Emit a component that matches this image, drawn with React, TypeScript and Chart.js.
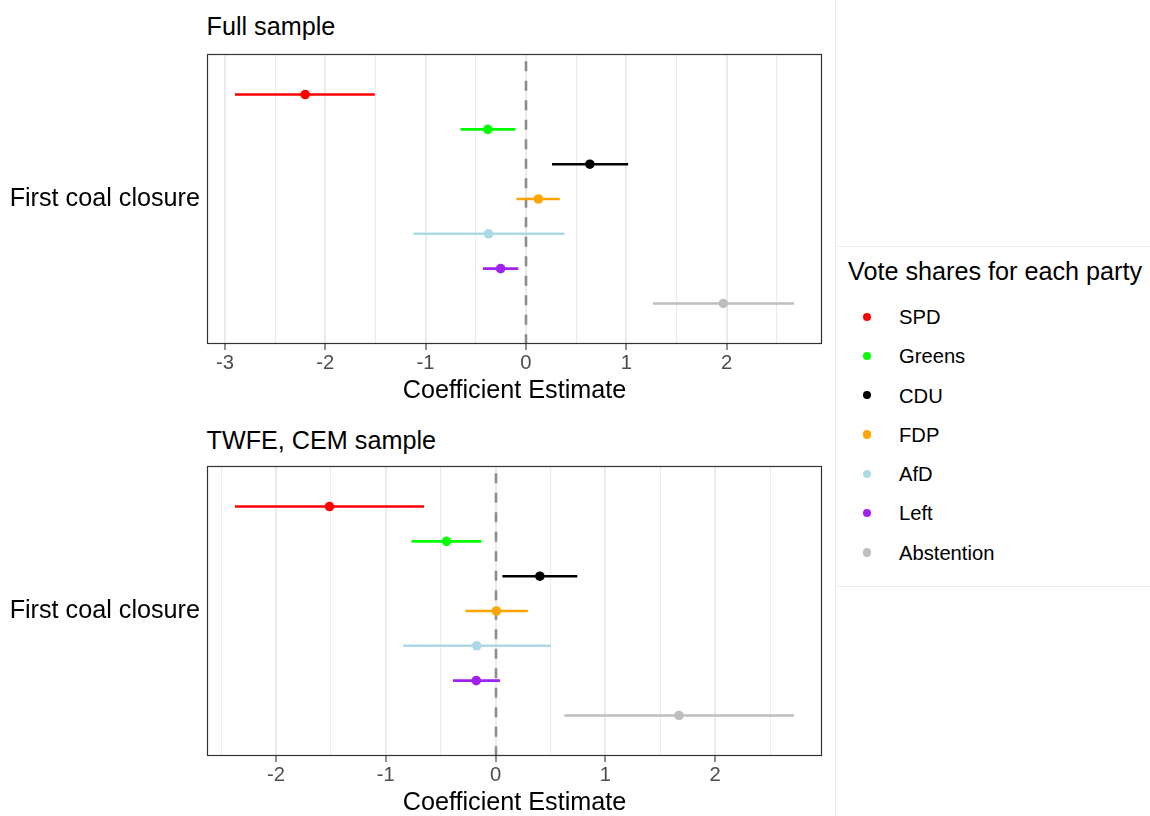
import React, { useEffect, useRef } from 'react';
import { Chart, registerables } from 'chart.js';

Chart.register(...registerables);

// ---------- data ----------
const parties = ['SPD', 'Greens', 'CDU', 'FDP', 'AfD', 'Left', 'Abstention'];
const partyColors = ['#FF0000', '#00FF00', '#000000', '#FFA500', '#ADD8E6', '#A020F0', '#BEBEBE'];

const fullEstimate = [-2.2, -0.38, 0.637, 0.124, -0.373, -0.252, 1.967];
const fullLower = [-2.9, -0.653, 0.26, -0.096, -1.122, -0.429, 1.266];
const fullUpper = [-1.506, -0.104, 1.018, 0.337, 0.385, -0.076, 2.672];

const twfeEstimate = [-1.513, -0.447, 0.403, 0.007, -0.172, -0.176, 1.67];
const twfeLower = [-2.374, -0.766, 0.062, -0.275, -0.842, -0.388, 0.626];
const twfeUpper = [-0.652, -0.128, 0.744, 0.293, 0.505, 0.04, 2.718];

const yCategories = ['First coal closure'];
const panelTitles = ['Full sample', 'TWFE, CEM sample'];
const xAxisTitle = 'Coefficient Estimate';
const legendTitle = 'Vote shares for each party';

const FONT = '"Liberation Sans", Arial, Helvetica, sans-serif';
const BIG = 25.2;
const SMALL = 20.2;

const isInt = (v: number) => Math.abs(v - Math.round(v)) < 1e-9;

const zeroLinePlugin = {
  id: 'zeroLine',
  beforeDatasetsDraw(chart: any) {
    const { ctx, chartArea, scales } = chart;
    const x = Math.round(scales.x.getPixelForValue(0));
    ctx.save();
    ctx.strokeStyle = '#8c8c8c';
    ctx.lineWidth = 2.6;
    ctx.setLineDash([10, 9.5]);
    ctx.lineDashOffset = 12.2;
    ctx.beginPath();
    ctx.moveTo(x, chartArea.top);
    ctx.lineTo(x, chartArea.bottom);
    ctx.stroke();
    ctx.restore();
  },
};

const panelBorderPlugin = {
  id: 'panelBorder',
  afterDraw(chart: any) {
    const { ctx, chartArea } = chart;
    ctx.save();
    ctx.strokeStyle = '#333333';
    ctx.lineWidth = 1.2;
    ctx.strokeRect(
      chartArea.left + 0.5,
      chartArea.top + 0.5,
      chartArea.right - chartArea.left - 1,
      chartArea.bottom - chartArea.top - 1
    );
    ctx.restore();
  },
};

type PanelProps = { est: number[]; lo: number[]; hi: number[]; top: number };

function Panel({ est, lo, hi, top }: PanelProps) {
  const ref = useRef<HTMLCanvasElement>(null);
  useEffect(() => {
    if (!ref.current) return;
    const all = [...lo, ...hi];
    const dmin = Math.min(...all);
    const dmax = Math.max(...all);
    const pad = (dmax - dmin) * 0.05;
    const xmin = dmin - pad;
    const xmax = dmax + pad;

    const datasets = parties.map((p, i) => ({
      label: p,
      data: [
        { x: lo[i], y: i },
        { x: est[i], y: i },
        { x: hi[i], y: i },
      ],
      showLine: true,
      borderColor: partyColors[i],
      backgroundColor: partyColors[i],
      borderWidth: 2.6,
      pointRadius: (c: any) => (c.dataIndex === 1 ? 4.8 : 0),
      pointBorderWidth: 0,
      pointHoverRadius: 0,
    }));

    const chart = new Chart(ref.current, {
      type: 'scatter',
      data: { datasets },
      options: {
        animation: false,
        responsive: false,
        devicePixelRatio: 1,
        events: [],
        layout: { padding: { top: 54, right: 13, left: 0, bottom: 0 } },
        plugins: { legend: { display: false }, tooltip: { enabled: false } },
        scales: {
          x: {
            type: 'linear',
            min: xmin,
            max: xmax,
            afterBuildTicks: (s: any) => {
              const t: any[] = [];
              for (let v = Math.ceil(xmin * 2) / 2; v <= xmax + 1e-9; v += 0.5) {
                t.push({ value: Math.round(v * 2) / 2 });
              }
              s.ticks = t;
            },
            afterFit: (s: any) => {
              s.height = 66;
            },
            grid: {
              color: '#ebebeb',
              lineWidth: (c: any) => (c.tick && isInt(c.tick.value) ? 2 : 1),
              drawTicks: true,
              tickLength: 6,
              tickWidth: 1.1,
              tickColor: (c: any) => (c.tick && isInt(c.tick.value) ? '#333333' : 'rgba(0,0,0,0)'),
            },
            border: { display: false },
            ticks: {
              color: '#4d4d4d',
              font: { family: FONT, size: SMALL },
              padding: 1.2,
              maxRotation: 0,
              autoSkip: false,
              callback: (v: any) => (isInt(Number(v)) ? String(Math.round(Number(v))) : ''),
            },
            title: {
              display: true,
              text: xAxisTitle,
              color: '#000000',
              font: { family: FONT, size: BIG },
              padding: { top: 0, bottom: 3.9 },
            },
          },
          y: {
            type: 'linear',
            min: -1.165,
            max: 7.165,
            reverse: true,
            afterBuildTicks: (s: any) => {
              s.ticks = [{ value: (parties.length - 1) / 2 }];
            },
            afterFit: (s: any) => {
              s.width = 207;
            },
            grid: { display: false, drawTicks: false },
            border: { display: false },
            ticks: {
              color: '#000000',
              padding: 7,
              font: { family: FONT, size: BIG },
              callback: () => yCategories[0],
            },
          },
        },
      } as any,
      plugins: [zeroLinePlugin, panelBorderPlugin],
    });
    return () => chart.destroy();
  }, []);

  return (
    <canvas
      ref={ref}
      width={835}
      height={410}
      style={{ position: 'absolute', left: 0, top, width: 835, height: 410, display: 'block' }}
    />
  );
}

export default function App() {
  const rowH = 39.3;
  return (
    <div
      style={{
        position: 'absolute',
        left: 0,
        top: 0,
        width: 1150,
        height: 816,
        background: '#ffffff',
        overflow: 'hidden',
        fontFamily: FONT,
        color: '#000',
      }}
    >
      <div style={{ position: 'absolute', left: 835, top: 0, width: 1, height: 816, background: '#ebebeb' }} />
      <div style={{ position: 'absolute', left: 835, top: 246, width: 315, height: 1, background: '#ebebeb' }} />
      <div style={{ position: 'absolute', left: 835, top: 586, width: 315, height: 1, background: '#ebebeb' }} />

      <div
        style={{ position: 'absolute', left: 206.5, top: 13.7, fontSize: BIG, lineHeight: `${BIG}px`, whiteSpace: 'nowrap' }}
      >
        {panelTitles[0]}
      </div>
      <div
        style={{ position: 'absolute', left: 206.5, top: 427.7, fontSize: BIG, lineHeight: `${BIG}px`, whiteSpace: 'nowrap' }}
      >
        {panelTitles[1]}
      </div>

      <Panel est={fullEstimate} lo={fullLower} hi={fullUpper} top={0} />
      <Panel est={twfeEstimate} lo={twfeLower} hi={twfeUpper} top={412} />

      <div
        style={{ position: 'absolute', left: 848, top: 259.4, fontSize: BIG, lineHeight: `${BIG}px`, whiteSpace: 'nowrap' }}
      >
        {legendTitle}
      </div>
      {parties.map((p, i) => (
        <React.Fragment key={p}>
          <div
            style={{
              position: 'absolute',
              left: 863.1,
              top: 312.5 + i * rowH,
              width: 8.4,
              height: 8.4,
              borderRadius: '50%',
              background: partyColors[i],
            }}
          />
          <div
            style={{
              position: 'absolute',
              left: 899,
              top: 306.9 + i * rowH,
              fontSize: SMALL,
              lineHeight: `${SMALL}px`,
              whiteSpace: 'nowrap',
            }}
          >
            {p}
          </div>
        </React.Fragment>
      ))}
    </div>
  );
}
